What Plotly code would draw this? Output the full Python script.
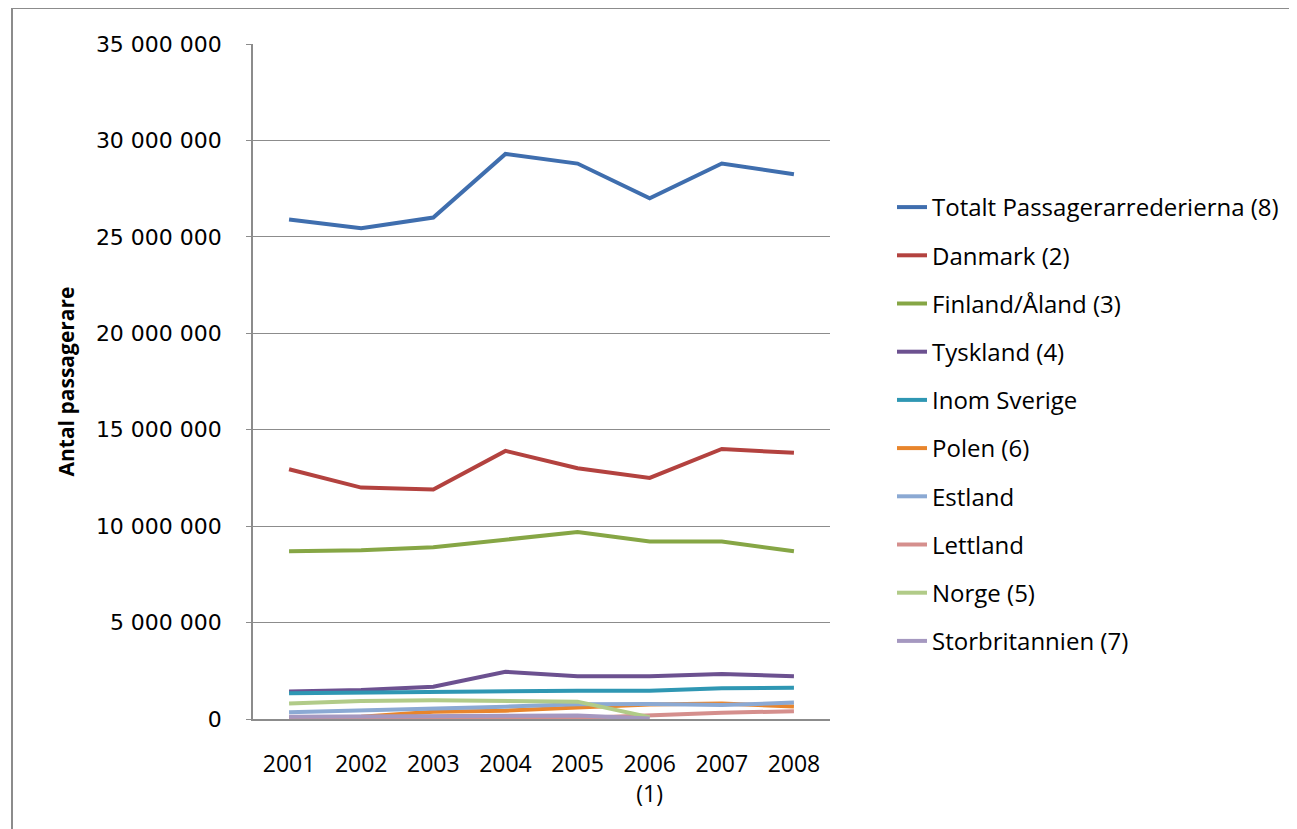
import plotly.graph_objects as go

years = ["2001", "2002", "2003", "2004", "2005", "2006", "2007", "2008"]
year_labels = ["2001", "2002", "2003", "2004", "2005", "2006<br>(1)", "2007", "2008"]

totalt = [25.9e6, 25.45e6, 26.0e6, 29.3e6, 28.8e6, 27.0e6, 28.8e6, 28.25e6]
danmark = [12.95e6, 12.0e6, 11.9e6, 13.9e6, 13.0e6, 12.5e6, 14.0e6, 13.8e6]
finland = [8.7e6, 8.75e6, 8.9e6, 9.3e6, 9.7e6, 9.2e6, 9.2e6, 8.7e6]
tyskland = [1.42e6, 1.5e6, 1.67e6, 2.45e6, 2.22e6, 2.22e6, 2.33e6, 2.22e6]
inom_sverige = [1.33e6, 1.37e6, 1.41e6, 1.47e6, 1.47e6, 1.47e6, 1.59e6, 1.62e6]
polen = [0.05e6, 0.12e6, 0.38e6, 0.43e6, 0.6e6, 0.75e6, 0.8e6, 0.65e6]
estland = [0.35e6, 0.43e6, 0.52e6, 0.64e6, 0.76e6, 0.78e6, 0.72e6, 0.85e6]
lettland = [0.02e6, 0.03e6, 0.05e6, 0.1e6, 0.05e6, 0.2e6, 0.33e6, 0.4e6]
norge = [0.8e6, 0.93e6, 0.97e6, 0.93e6, 0.9e6, 0.09e6, None, None]
storbritannien = [0.12e6, 0.13e6, 0.15e6, 0.17e6, 0.18e6, 0.02e6, None, None]

series_names = [
    "Totalt Passagerarrederierna (8)", "Danmark (2)", "Finland/Åland (3)", "Tyskland (4)",
    "Inom Sverige", "Polen (6)", "Estland", "Lettland", "Norge (5)", "Storbritannien (7)",
]
series_values = [totalt, danmark, finland, tyskland, inom_sverige, polen, estland,
                 lettland, norge, storbritannien]
colors = ["#3F6EAE", "#B3423F", "#86A645", "#6C5190", "#2F97B3", "#E8852C",
          "#8BA9D3", "#D58F8D", "#B1CB88", "#A598C0"]

y_tickvals = [0, 5e6, 10e6, 15e6, 20e6, 25e6, 30e6, 35e6]
y_ticktext = ["0", "5 000 000", "10 000 000", "15 000 000", "20 000 000",
              "25 000 000", "30 000 000", "35 000 000"]

fig = go.Figure()
for i, (name, vals, col) in enumerate(zip(series_names, series_values, colors)):
    fig.add_trace(go.Scatter(
        x=years, y=vals, mode="lines", name=name,
        line=dict(color=col, width=4), legendgroup=str(i),
        connectgaps=False,
    ))

# page offset of 8px (body margin) compensated
OFF = 8
L, R, T, B = 253 - OFF, 830 - OFF, 44 - OFF, 719 - OFF
W, H = 1297 - OFF, 829 - OFF
pw, ph = R - L, B - T

def px(x):
    return (x - OFF - L) / pw

def py(y):
    return (B - (y - OFF)) / ph

fig.update_layout(
    width=W, height=H,
    margin=dict(l=L, r=W - R, t=T, b=H - B, pad=0),
    paper_bgcolor="white", plot_bgcolor="white",
    font=dict(family="Open Sans", size=20, color="#000000"),
    showlegend=True,
    legend=dict(
        x=px(892), y=py(185), xanchor="left", yanchor="top",
        font=dict(family="Open Sans", size=24, color="#000000"),
        traceorder="grouped", tracegroupgap=14,
        bgcolor="rgba(0,0,0,0)",
    ),
    xaxis=dict(
        type="category", tickmode="array", tickvals=years, ticktext=year_labels,
        range=[-0.5, 7.5], showgrid=False, showline=True, linecolor="#8C8C8C",
        linewidth=1.5, ticks="", ticklabelstandoff=24,
        tickfont=dict(family="Open Sans", size=23, color="#000000"),
        zeroline=False,
    ),
    yaxis=dict(
        range=[0, 35e6], tickmode="array", tickvals=y_tickvals, ticktext=y_ticktext,
        showgrid=True, gridcolor="#8C8C8C", gridwidth=1,
        showline=True, linecolor="#8C8C8C", linewidth=1.5,
        ticks="outside", ticklen=5, tickcolor="#8C8C8C", ticklabelstandoff=20,
        tickfont=dict(family="DejaVu Sans", size=22, color="#000000"),
        zeroline=False,
        title=dict(text="<b>Antal passagerare</b>", standoff=16,
                   font=dict(family="Open Sans", size=21, color="#000000")),
    ),
    shapes=[dict(
        type="rect", xref="paper", yref="paper",
        x0=px(12), x1=px(1300), y0=py(834), y1=py(8),
        line=dict(color="#8C8C8C", width=2), fillcolor="rgba(0,0,0,0)", layer="below",
    )],
)

fig.write_html("out.html")
